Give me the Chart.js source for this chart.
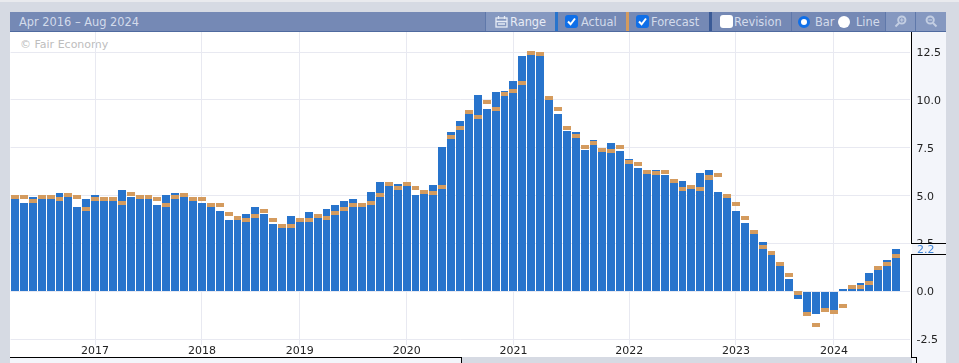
<!DOCTYPE html>
<html>
<head>
<meta charset="utf-8">
<title>Apr 2016 - Aug 2024</title>
<script src="https://cdn.jsdelivr.net/npm/chart.js@4"></script>
<style>
    html, body { margin: 0; padding: 0; }
    body { width: 959px; height: 363px; overflow: hidden; position: relative; background: #d6dae3; font-family: "DejaVu Sans", sans-serif; }
    div, span, svg { position: absolute; }
    #topEdge { left: 0; top: 0; width: 959px; height: 2px; background: #e9eaee; }
    #header { left: 10px; top: 12px; width: 936px; height: 19px; background: #7589b5; border-bottom: 1px solid #4f6a9f; }
    #plotBg { left: 10px; top: 32px; width: 902px; height: 325px; background: #fff; }
    #axisBg { left: 912px; top: 32px; width: 34px; height: 331px; background: #f3f5fa; }
    #bottomBg { left: 10px; top: 358px; width: 451px; height: 5px; background: #f3f5fa; }
    #bottomFill { left: 462px; top: 357px; width: 449px; height: 6px; background: #d6dae3; }
    #chartWrap { left: 10px; top: 32px; width: 936px; height: 325px; }
    .line { background: #000; }
    .txt { top: 15px; font-size: 11.4px; line-height: 14px; color: #d3dbeb; white-space: nowrap; }
    .btn { top: 12px; height: 19px; background: #8598c0; }
    .sep { top: 12px; width: 1px; height: 19px; background: #5f78aa; }
    .stripe { top: 12px; width: 3px; height: 19px; }
    .check { top: 15px; width: 13px; height: 13px; border-radius: 3px; background: #0f6fe8; }
    .empty { background: #fff; }
    .radio { top: 16px; width: 12px; height: 12px; border-radius: 50%; background: #fff; }
    .radioOn { box-sizing: border-box; border: 3px solid #0f6fe8; }
    #lastBox { left: 912px; top: 244px; width: 34px; height: 10px; background: #f3f5fa; }
    #lastValue { left: 917px; top: 243px; font-size: 11px; line-height: 13px; color: #3f86d8; }
    #copy { left: 20px; top: 38px; font-size: 11px; line-height: 14px; color: #bdbdbd; }
</style>
</head>
<body>
    <div id="topEdge"></div>
    <div id="plotBg"></div>
    <div id="axisBg"></div>
    <div id="bottomBg"></div>
    <div id="bottomFill"></div>
    <div id="copy">© Fair Economy</div>
    <div id="chartWrap"><canvas id="myChart" width="936" height="325"></canvas></div>

    <div id="header"></div>
    <div class="txt" style="left:19px">Apr 2016 – Aug 2024</div>

    <div class="sep" style="left:485px"></div>
    <div class="btn" style="left:486px;width:69px"></div>
    <svg style="left:495px;top:15px" width="13" height="13" viewBox="0 0 13 13" fill="none" stroke="#e6ebf5" stroke-width="1.3">
        <rect x="1" y="3" width="11" height="9"/><path d="M3.5 1v3M9.5 1v3M1 6.5h11M3 9h7"/>
    </svg>
    <div class="txt" style="left:510px;color:#e8ecf5">Range</div>
    <div class="stripe" style="left:555px;background:#2874cc"></div>

    <div class="check" style="left:565px"></div>
    <svg style="left:565px;top:15px" width="13" height="13" viewBox="0 0 13 13" fill="none" stroke="#fff" stroke-width="2"><path d="M3 6.5l2.6 2.8L10 3.5"/></svg>
    <div class="txt" style="left:581px">Actual</div>
    <div class="stripe" style="left:626px;background:#d49b5e"></div>

    <div class="check" style="left:636px"></div>
    <svg style="left:636px;top:15px" width="13" height="13" viewBox="0 0 13 13" fill="none" stroke="#fff" stroke-width="2"><path d="M3 6.5l2.6 2.8L10 3.5"/></svg>
    <div class="txt" style="left:651px">Forecast</div>
    <div class="stripe" style="left:709px;background:#3a5a96"></div>

    <div class="check empty" style="left:720px"></div>
    <div class="txt" style="left:734px">Revision</div>
    <div class="sep" style="left:791px"></div>

    <div class="radio radioOn" style="left:798px"></div>
    <div class="txt" style="left:815px">Bar</div>
    <div class="radio" style="left:838px"></div>
    <div class="txt" style="left:856px">Line</div>

    <div class="btn" style="left:885px;width:30px"></div>
    <div class="btn" style="left:916px;width:30px"></div>
    <div class="sep" style="left:885px"></div>
    <div class="sep" style="left:915px"></div>
    <svg style="left:894px;top:15px" width="13" height="13" viewBox="0 0 13 13" fill="none" stroke="#c3cee2" stroke-width="2">
        <circle cx="7.8" cy="5" r="3.6"/><path d="M5 8L1.5 11.5"/><path d="M6 5h3.6M7.8 3.2v3.6" stroke-width="1.2"/>
    </svg>
    <svg style="left:925px;top:15px" width="13" height="13" viewBox="0 0 13 13" fill="none" stroke="#c3cee2" stroke-width="2">
        <circle cx="5.2" cy="5" r="3.6"/><path d="M8 8l3.5 3.5"/><path d="M3.4 5H7" stroke-width="1.2"/>
    </svg>

    <div id="lastBox"></div>
    <div id="lastValue"></div>
    <div class="line" style="left:911px;top:32px;width:1px;height:212px"></div>
    <div class="line" style="left:911px;top:243px;width:35px;height:1px"></div>
    <div class="line" style="left:911px;top:254px;width:35px;height:1px"></div>
    <div class="line" style="left:911px;top:254px;width:1px;height:104px"></div>
    <div class="line" style="left:911px;top:357px;width:6px;height:1px"></div>
    <div class="line" style="left:916px;top:357px;width:1px;height:6px"></div>
    <div class="line" style="left:10px;top:357px;width:452px;height:1px"></div>
    <div class="line" style="left:461px;top:357px;width:1px;height:6px"></div>

<script>
    // one bar per slot
    const actual = [
        4.84, 4.64, 4.95, 4.84, 4.84, 5.16, 4.95, 4.43, 4.84, 5.05,
        4.74, 4.74, 5.31, 4.95, 4.84, 4.84, 4.53, 5.05, 5.16, 4.95,
        4.74, 4.64, 4.43, 4.22, 3.75, 3.75, 4.06, 4.43, 4.06, 3.54,
        3.33, 3.96, 3.65, 4.17, 3.85, 4.32, 4.53, 4.74, 4.84, 4.43,
        5.21, 5.73, 5.52, 5.63, 5.52, 5.05, 5.10, 5.54, 7.52, 8.35,
        8.92, 9.24, 10.23, 9.50, 10.43, 10.49, 11.0, 12.31, 12.36, 12.31,
        10.02, 9.24, 8.40, 8.35, 7.41, 7.93, 7.31, 7.73, 7.31, 6.94,
        6.42, 6.11, 6.32, 6.06, 5.64, 5.75, 5.33, 6.16, 6.32, 5.17,
        4.86, 4.18, 3.56, 2.99, 2.57, 1.91, 1.34, 0.66, -0.38, -1.27,
        -1.16, -0.85, -0.95, 0.14, 0.14, 0.45, 0.97, 1.13, 1.65, 2.22
    ];
    const forecast = [
        4.95, 4.95, 4.74, 4.95, 4.95, 4.84, 5.05, 4.95, 4.32, 4.84,
        4.84, 4.84, 4.64, 5.10, 4.95, 4.95, 4.84, 4.53, 4.95, 5.05,
        4.84, 4.84, 4.53, 4.53, 4.06, 3.85, 3.75, 3.96, 4.22, 3.75,
        3.44, 3.44, 3.75, 3.75, 3.96, 3.85, 4.11, 4.32, 4.53, 4.53,
        4.64, 5.05, 5.63, 5.42, 5.63, 5.42, 5.21, 5.12, 5.43, 8.04,
        8.51, 9.39, 9.13, 9.91, 9.50, 10.33, 10.49, 10.90, 12.47, 12.41,
        10.12, 9.50, 8.51, 8.14, 7.52, 7.73, 7.41, 7.31, 7.52, 6.74,
        6.63, 6.22, 6.16, 6.22, 5.75, 5.33, 5.43, 5.33, 5.95, 6.06,
        4.97, 4.55, 3.84, 3.11, 2.33, 2.01, 1.44, 0.87, -0.07, -1.16,
        -1.74, -0.95, -1.06, -0.75, 0.24, 0.24, 0.45, 1.23, 1.44, 1.86
    ];
    const yearLabels = ["2017", "2018", "2019", "2020", "2021", "2022", "2023", "2024"];
    const yearSlots = [9, 21, 32, 44, 56, 69, 81, 92];
    const yTicks = [-2.5, 0, 2.5, 5, 7.5, 10, 12.5];
    const markerHalf = 0.105; // forecast dash thickness

    // one spare slot after the last bar, the plot runs on a bit to the right
    var slots = [];
    for (var i = 0; i <= actual.length; i++) slots.push(i);

    document.getElementById("lastValue").textContent = actual[actual.length - 1].toFixed(1);

    // keep bar edges on whole pixels and always 1px of white between bars
    const snapBars = {
        id: "snapBars",
        beforeDatasetsDraw(chart) {
            chart.getSortedVisibleDatasetMetas().forEach(meta => {
                var lefts = meta.data.map(bar => Math.round(bar.x) - 4);
                meta.data.forEach((bar, n) => {
                    var right = n + 1 < lefts.length ? Math.min(lefts[n] + 8, lefts[n + 1] - 1) : lefts[n] + 8;
                    bar.x = (lefts[n] + right) / 2;
                    bar.width = right - lefts[n];
                    bar.y = Math.round(bar.y);
                    bar.base = Math.round(bar.base);
                });
            });
        },
    };

    new Chart(document.getElementById("myChart"), {
        type: "bar",
        data: {
            labels: slots,
            datasets: [
                {
                    label: "Actual",
                    data: actual,
                    backgroundColor: "#2874cc",
                    barThickness: 8,
                    inflateAmount: 0,
                    grouped: false,
                    order: 2,
                },
                {
                    label: "Forecast",
                    data: forecast.map(v => [v - markerHalf, v + markerHalf]),
                    backgroundColor: "#d49b5e",
                    barThickness: 8,
                    inflateAmount: 0,
                    grouped: false,
                    order: 1,
                },
            ],
        },
        plugins: [snapBars],
        options: {
            responsive: false,
            animation: false,
            layout: { padding: { left: 0.55 } },
            plugins: {
                legend: { display: false },
                tooltip: { enabled: false },
            },
            scales: {
                x: {
                    afterBuildTicks: axis => {
                        axis.ticks = yearSlots.map(v => ({ value: v }));
                    },
                    afterFit: axis => {
                        axis.height = 12;
                        axis.paddingLeft = 0;
                        axis.paddingRight = 0;
                    },
                    grid: { color: "#e8e9f1", offset: false, drawTicks: false, lineWidth: 1 },
                    border: { display: false },
                    ticks: {
                        autoSkip: false,
                        maxRotation: 0,
                        padding: 0,
                        color: "#222",
                        font: { family: "DejaVu Sans", size: 11 },
                        callback: function (value) {
                            return yearLabels[yearSlots.indexOf(value)];
                        },
                    },
                },
                y: {
                    position: "right",
                    min: -2.792,
                    max: 13.544,
                    afterBuildTicks: axis => {
                        axis.ticks = yTicks.map(v => ({ value: v }));
                    },
                    afterFit: axis => {
                        axis.width = 36.45;
                        // the label padding would push the plot down from the header
                        axis.paddingTop = 0;
                        axis.paddingBottom = 0;
                    },
                    grid: { color: "#e8e9f1", drawTicks: false, lineWidth: 1 },
                    border: { display: false },
                    ticks: {
                        padding: 7,
                        labelOffset: 1,
                        color: "#222",
                        font: { family: "DejaVu Sans", size: 11 },
                        callback: value => value.toFixed(1),
                    },
                },
            },
        },
    });
</script>
</body>
</html>
